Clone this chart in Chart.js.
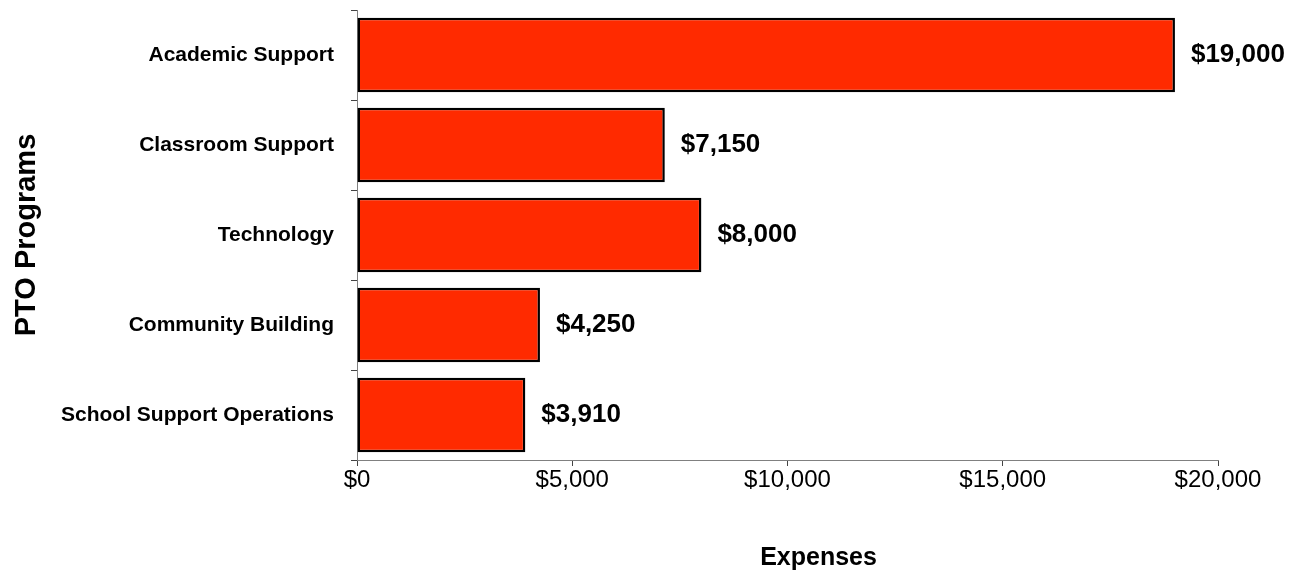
<!DOCTYPE html>
<html>
<head>
<meta charset="utf-8">
<script src="https://cdn.jsdelivr.net/npm/chart.js@4/dist/chart.umd.min.js"></script>
<style>
  html, body { margin: 0; padding: 0; background: #fff; }
  #wrap { width: 1291px; height: 575px; }
</style>
</head>
<body>
<div id="wrap"><canvas id="chart" width="1291" height="575"></canvas></div>
<script>
  // Chart data
  const programs = ['Academic Support', 'Classroom Support', 'Technology', 'Community Building', 'School Support Operations'];
  const expenses = [19000, 7150, 8000, 4250, 3910];
  const xTicks = [0, 5000, 10000, 15000, 20000];

  const fontFamily = '"Liberation Sans", Arial, sans-serif';
  const money = v => '$' + Number(v).toLocaleString('en-US');

  // value labels right of each bar + the x axis title (sits a bit right of centre in the original)
  const extraText = {
    id: 'extraText',
    afterDatasetsDraw(chart) {
      const ctx = chart.ctx;
      const meta = chart.getDatasetMeta(0);
      const area = chart.chartArea;
      ctx.save();
      ctx.fillStyle = '#000';
      ctx.font = 'bold 26px ' + fontFamily;
      ctx.textAlign = 'left';
      ctx.textBaseline = 'middle';
      meta.data.forEach((bar, i) => {
        ctx.fillText(money(expenses[i]), bar.x + 16, bar.y);
      });
      ctx.font = 'bold 25px ' + fontFamily;
      ctx.textAlign = 'center';
      ctx.fillText('Expenses', (area.left + area.right) / 2 + 31, area.bottom + 98);
      ctx.restore();
    }
  };

  new Chart(document.getElementById('chart'), {
    type: 'bar',
    data: {
      labels: programs,
      datasets: [{
        data: expenses,
        backgroundColor: 'rgb(255, 42, 0)',
        borderColor: '#000',
        borderWidth: 2.5,
        borderSkipped: false,
        barPercentage: 0.83,
        categoryPercentage: 1
      }]
    },
    options: {
      indexAxis: 'y',
      responsive: false,
      animation: false,
      layout: { padding: { top: 10, right: 73, left: 0, bottom: 0 } },
      plugins: {
        legend: { display: false },
        tooltip: { enabled: false }
      },
      scales: {
        x: {
          min: 0,
          max: 20000,
          afterFit: s => { s.height = 115; s.paddingLeft = 0; s.paddingRight = 0; },
          afterBuildTicks: s => { s.ticks = xTicks.map(v => ({ value: v })); },
          border: { color: '#808080', width: 1 },
          grid: { drawOnChartArea: false, tickLength: 6, color: '#444' },
          ticks: {
            padding: 0,
            color: '#000',
            font: { family: fontFamily, size: 24 },
            callback: v => money(v)
          },
          title: { display: false }
        },
        y: {
          afterFit: s => { s.width = 357; s.paddingTop = 0; s.paddingBottom = 0; },
          border: { color: '#808080', width: 1 },
          grid: { drawOnChartArea: false, offset: true, tickLength: 6, color: '#444' },
          ticks: {
            padding: 17,
            color: '#000',
            font: { family: fontFamily, size: 21, weight: 'bold' }
          },
          title: {
            display: true,
            text: 'PTO Programs',
            color: '#000',
            font: { family: fontFamily, size: 29, weight: 'bold' },
            padding: { top: 10, bottom: 0 }
          }
        }
      }
    },
    plugins: [extraText]
  });
</script>
</body>
</html>
